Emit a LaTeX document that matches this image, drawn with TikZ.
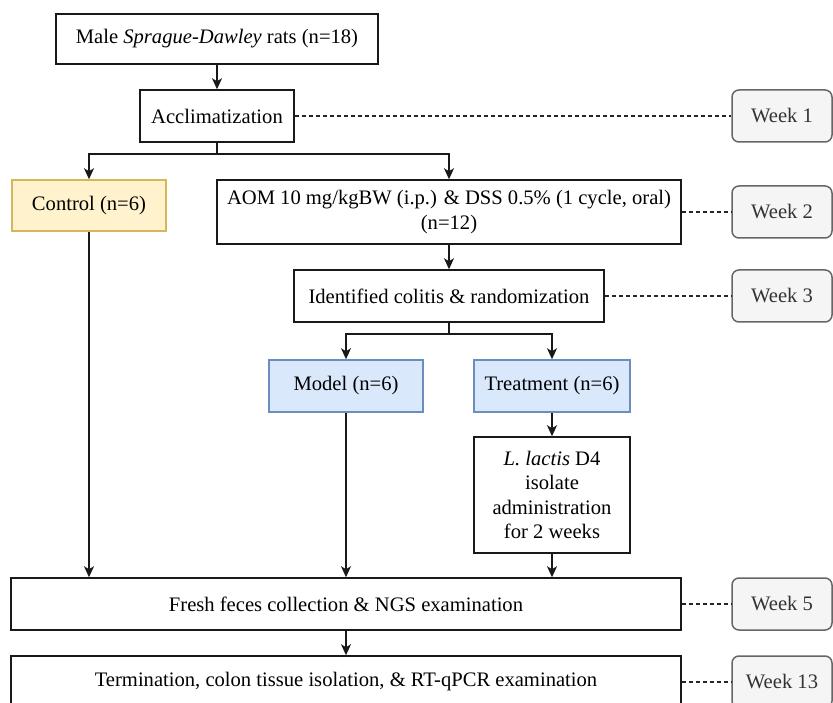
\documentclass[tikz,border=0pt]{standalone}
\usepackage{fontspec}
\setmainfont{Liberation Serif}
\usetikzlibrary{arrows.meta}
\definecolor{ctlfill}{HTML}{FFF2CC}
\definecolor{ctldraw}{HTML}{D6B656}
\definecolor{grpfill}{HTML}{DAE8FC}
\definecolor{grpdraw}{HTML}{6C8EBF}
\definecolor{wkfill}{HTML}{F5F5F5}
\definecolor{wkdraw}{HTML}{666666}
\definecolor{wktext}{HTML}{333333}
\begin{document}
\begin{tikzpicture}[x=1pt,y=-1pt,
  box/.style={draw=black!90, line width=1.5pt, fill=white, inner sep=0pt, align=center,
    font=\fontsize{20.6}{24.5}\selectfont},
  ctlbox/.style={box, draw=ctldraw, fill=ctlfill},
  grpbox/.style={box, draw=grpdraw, fill=grpfill},
  weekbox/.style={box, draw=wkdraw, fill=wkfill, text=wktext, rounded corners=7pt,
    minimum width=100pt, minimum height=52pt},
  flow/.style={line width=1.5pt, draw=black!90, -{Stealth[length=11pt,width=10pt,inset=3pt]}},
  plainline/.style={line width=1.5pt, draw=black!90},
  tick/.style={line width=1.2pt, draw=black!85, dash pattern=on 4pt off 3pt}
]
\useasboundingbox (0,0) rectangle (833,703);
\clip (0,0) rectangle (833,703);

\node[box, minimum width=322pt, minimum height=50pt] (male) at (217,39) {Male \textit{Sprague-Dawley} rats (n=18)};
\node[box, minimum width=154pt, minimum height=52pt] (accl) at (217,116) {Acclimatization};
\node[ctlbox, minimum width=154pt, minimum height=51pt] (ctl) at (89,205.5) {Control (n=6)};
\node[box, minimum width=464pt, minimum height=64pt] (aom) at (449,212) {AOM 10 mg/kgBW (i.p.) \& DSS 0.5\% (1 cycle, oral)\\(n=12)};
\node[box, minimum width=310pt, minimum height=52pt] (ident) at (449,296) {Identified colitis \& randomization};
\node[grpbox, minimum width=154pt, minimum height=52pt] (model) at (346,386) {Model (n=6)};
\node[grpbox, minimum width=156pt, minimum height=52pt] (treat) at (552,386) {Treatment (n=6)};
\node[box, minimum width=156pt, minimum height=116pt] (lact) at (552,495) {\textit{L. lactis} D4\\isolate\\administration\\for 2 weeks};
\node[box, minimum width=670pt, minimum height=52pt] (fresh) at (346,604) {Fresh feces collection \& NGS examination};
\node[box, minimum width=670pt, minimum height=52pt] (term) at (346,682) {Termination, colon tissue isolation, \& RT-qPCR examination};

\node[weekbox] (w1) at (782,116) {Week 1};
\node[weekbox] (w2) at (782,212) {Week 2};
\node[weekbox] (w3) at (782,296) {Week 3};
\node[weekbox] (w5) at (782,604) {Week 5};
\node[weekbox] (w13) at (782,682) {Week 13};

\coordinate (s1) at (217,154);
\coordinate (s2) at (449,334);

\draw[flow] (male) -- (accl);
\draw[plainline] (accl) -- (s1);
\draw[flow] (s1) -| (ctl.north);
\draw[flow] (s1) -| (aom.north);
\draw[flow] (aom) -- (ident);
\draw[plainline] (ident) -- (s2);
\draw[flow] (s2) -| (model.north);
\draw[flow] (s2) -| (treat.north);
\draw[flow] (treat) -- (lact);
\draw[flow] (lact) -- (lact.south |- fresh.north);
\draw[flow] (model) -- (model.south |- fresh.north);
\draw[flow] (ctl) -- (ctl.south |- fresh.north);
\draw[flow] (fresh) -- (term);

\draw[tick] (accl.east) -- (w1.west);
\draw[tick] (aom.east) -- (w2.west);
\draw[tick] (ident.east) -- (w3.west);
\draw[tick] (fresh.east) -- (w5.west);
\draw[tick] (term.east) -- (w13.west);
\end{tikzpicture}
\end{document}
